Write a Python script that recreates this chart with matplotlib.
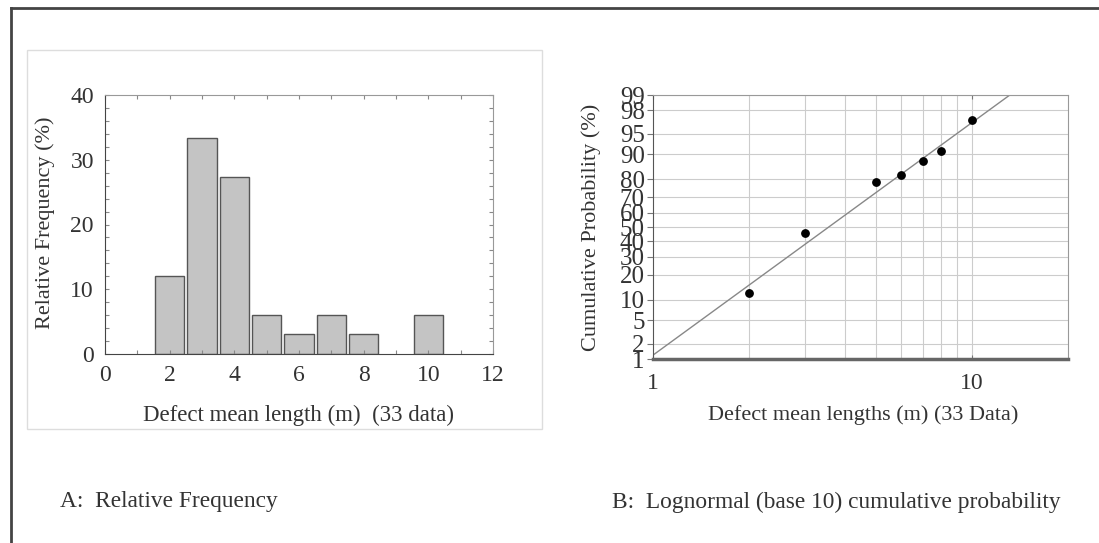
import numpy as np
import matplotlib
matplotlib.use('Agg')
import matplotlib.pyplot as plt
from matplotlib.lines import Line2D
from matplotlib.patches import Rectangle
from statistics import NormalDist

# --- Data ---
# Histogram (A): bin centres and relative frequency (%) for 33 defects
bin_centers = [2, 3, 4, 5, 6, 7, 8, 10]
rel_freq = [12.1, 33.3, 27.3, 6.06, 3.03, 6.06, 3.03, 6.06]

# Lognormal plot (B): defect lengths and cumulative probability (%)
len_points = [2, 3, 5, 6, 7, 8, 10]
cum_prob = [12.1, 45.5, 78.8, 81.8, 87.9, 90.9, 97.0]
prob_ticks = [1, 2, 5, 10, 20, 30, 40, 50, 60, 70, 80, 90, 95, 98, 99]
# fitted lognormal: log10(length) mean and std
fit_mu_log = 0.551
fit_sigma_log = 0.244

W, H = 1099, 543
fig = plt.figure(figsize=(W / 100, H / 100), dpi=100)
plt.rcParams['font.family'] = ['Liberation Serif', 'DejaVu Serif']
txt_col = '#333333'


def px_box(x0, x1, ytop, ybot):
    return [x0 / W, (H - ybot) / H, (x1 - x0) / W, (ybot - ytop) / H]


# outer frame (only left and top edges visible)
fig.add_artist(Line2D([11 / W, 11 / W], [0, 1 - 8 / H], color='#444444', lw=2))
fig.add_artist(Line2D([11 / W, 1], [1 - 8 / H, 1 - 8 / H], color='#444444', lw=2))
# light frame around panel A
fig.add_artist(Rectangle((27 / W, 1 - 429 / H), (542 - 27) / W, (429 - 50) / H,
                         transform=fig.transFigure, fill=False, ec='#dddddd', lw=1))

# --- Panel A: histogram ---
ax1 = fig.add_axes(px_box(105, 493, 95, 354))
ax1.bar(bin_centers, rel_freq, width=0.9, color='#c4c4c4', edgecolor='#555555', linewidth=1)
ax1.set_xlim(0, 12)
ax1.set_ylim(0, 40)
ax1.set_xticks(range(0, 13, 2))
ax1.set_xticks(range(1, 13, 2), minor=True)
ax1.set_yticks(range(0, 41, 10))
ax1.set_yticks(range(0, 41, 2), minor=True)
ax1.tick_params(which='both', direction='in', top=True, right=True,
                length=3, width=0.8, color='#888888', labelsize=17, labelcolor=txt_col, pad=8)
for s in ['left', 'bottom']:
    ax1.spines[s].set_color('#444444')
for s in ['top', 'right']:
    ax1.spines[s].set_color('#999999')
fig.text(45 / W, 1 - 223 / H, 'Relative Frequency (%)', rotation=90, ha='center',
         va='center', fontsize=16, color=txt_col)
fig.text(298 / W, 1 - 415 / H, 'Defect mean length (m)  (33 data)', ha='center',
         va='center', fontsize=16.5, color=txt_col)

# --- Panel B: lognormal probability plot ---
nd = NormalDist()
z = lambda p: nd.inv_cdf(p / 100.0)
ax2 = fig.add_axes(px_box(653, 1068, 95, 359))
ax2.set_xscale('log')
ax2.set_xlim(1, 20)
ax2.set_ylim(z(1), z(99))
for v in range(2, 11):
    ax2.axvline(v, color='#cccccc', lw=0.8, zorder=0)
for p in prob_ticks:
    ax2.axhline(z(p), color='#cccccc', lw=0.8, zorder=0)
xs = np.array([1, 20])
ax2.plot(xs, (np.log10(xs) - fit_mu_log) / fit_sigma_log, color='#888888', lw=1)
ax2.scatter(len_points, [z(p) for p in cum_prob], s=28, color='black', zorder=3)
ax2.set_yticks([z(p) for p in prob_ticks])
ax2.set_yticklabels([str(p) for p in prob_ticks])
ax2.set_xticks([1, 10])
ax2.set_xticklabels(['1', '10'])
ax2.xaxis.set_minor_locator(matplotlib.ticker.NullLocator())
ax2.tick_params(axis='y', which='both', direction='out', length=4, color='#777777',
                labelsize=18, labelcolor=txt_col, pad=2)
ax2.tick_params(axis='x', which='both', direction='in', length=3, color='#777777',
                labelsize=17, labelcolor=txt_col, pad=10, top=True)
ax2.spines['left'].set_color('#555555')
ax2.spines['bottom'].set_color('#666666')
ax2.spines['bottom'].set_linewidth(2.5)
for s in ['top', 'right']:
    ax2.spines[s].set_color('#999999')
fig.text(591 / W, 1 - 227 / H, 'Cumulative Probability (%)', rotation=90, ha='center',
         va='center', fontsize=16, color=txt_col)
fig.text(863 / W, 1 - 415 / H, 'Defect mean lengths (m) (33 Data)', ha='center',
         va='center', fontsize=16, color=txt_col)

# --- captions ---
fig.text(60 / W, 1 - 501 / H, 'A:  Relative Frequency', ha='left', va='center',
         fontsize=16.8, color=txt_col)
fig.text(612 / W, 1 - 502 / H, 'B:  Lognormal (base 10) cumulative probability',
         ha='left', va='center', fontsize=16.8, color=txt_col)

fig.savefig('out.png', dpi=100)
